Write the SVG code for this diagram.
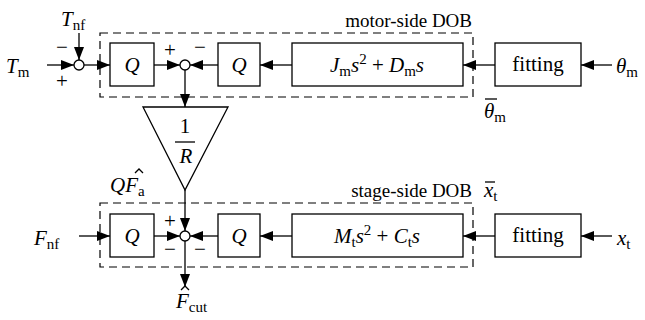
<svg xmlns="http://www.w3.org/2000/svg" width="645" height="320" viewBox="0 0 645 320">
<defs>
<marker id="ah" markerUnits="userSpaceOnUse" markerWidth="14" markerHeight="10" refX="13" refY="5" orient="auto">
<path d="M0,0 L13,5 L0,10 z" fill="#000" stroke="none"/>
</marker>
</defs>

<g id="connectors" fill="none" stroke="#000" stroke-width="1.3" marker-end="url(#ah)">
<line x1="47" y1="65" x2="74" y2="65"/>
<line x1="79" y1="33" x2="79" y2="60"/>
<line x1="84" y1="65" x2="110" y2="65"/>
<line x1="154" y1="65" x2="180" y2="65"/>
<line x1="218" y1="65" x2="190" y2="65"/>
<line x1="292" y1="65" x2="260" y2="65"/>
<line x1="495" y1="65" x2="463" y2="65"/>
<line x1="612" y1="65" x2="581" y2="65"/>
<line x1="185" y1="70" x2="185" y2="107"/>
<line x1="185" y1="190" x2="185" y2="231"/>
<line x1="79" y1="236" x2="110" y2="236"/>
<line x1="154" y1="236" x2="180" y2="236"/>
<line x1="218" y1="236" x2="190" y2="236"/>
<line x1="292" y1="236" x2="260" y2="236"/>
<line x1="495" y1="236" x2="463" y2="236"/>
<line x1="612" y1="236" x2="581" y2="236"/>
<line x1="185" y1="241" x2="185" y2="287"/>
</g>

<g font-family="Liberation Serif" font-size="21" fill="#000">
<g id="motor-dob">
<rect x="100" y="33" width="373" height="64" fill="none" stroke="#000" stroke-width="1.2" stroke-dasharray="8 5"/>
<text font-size="19" x="472" y="27" text-anchor="end">motor-side DOB</text>
</g>
<g id="stage-dob">
<rect x="100" y="203" width="373" height="64" fill="none" stroke="#000" stroke-width="1.2" stroke-dasharray="8 5"/>
<text font-size="19" x="472" y="197" text-anchor="end">stage-side DOB</text>
</g>

<g id="sum1"><circle cx="79" cy="65" r="5" fill="#fff" stroke="#000" stroke-width="1.3"/>
<text x="62" y="54" text-anchor="middle">−</text><text x="62" y="88" text-anchor="middle">+</text></g>
<g id="sum2"><circle cx="185" cy="65" r="5" fill="#fff" stroke="#000" stroke-width="1.3"/>
<text x="170" y="57" text-anchor="middle">+</text><text x="200" y="54" text-anchor="middle">−</text></g>
<g id="sum3"><circle cx="185" cy="236" r="5" fill="#fff" stroke="#000" stroke-width="1.3"/>
<text x="170" y="228" text-anchor="middle">+</text><text x="170" y="256" text-anchor="middle">−</text><text x="200" y="256" text-anchor="middle">−</text></g>

<g id="q1"><rect x="110" y="43" width="44" height="43" fill="#fff" stroke="#000" stroke-width="1.3"/><text font-style="italic" text-anchor="middle" x="132" y="72">Q</text></g>
<g id="q2"><rect x="218" y="43" width="42" height="43" fill="#fff" stroke="#000" stroke-width="1.3"/><text font-style="italic" text-anchor="middle" x="239" y="72">Q</text></g>
<g id="jm"><rect x="292" y="43" width="171" height="43" fill="#fff" stroke="#000" stroke-width="1.3"/>
<text text-anchor="middle" x="377" y="72"><tspan font-style="italic">J</tspan><tspan font-size="15" dy="4">m</tspan><tspan font-style="italic" dy="-4">s</tspan><tspan font-size="15" dy="-8">2</tspan><tspan dy="8"> + </tspan><tspan font-style="italic">D</tspan><tspan font-size="15" dy="4">m</tspan><tspan font-style="italic" dy="-4">s</tspan></text></g>
<g id="fit1"><rect x="495" y="43" width="86" height="43" fill="#fff" stroke="#000" stroke-width="1.3"/><text text-anchor="middle" x="538" y="71">fitting</text></g>

<g id="q3"><rect x="110" y="214" width="44" height="43" fill="#fff" stroke="#000" stroke-width="1.3"/><text font-style="italic" text-anchor="middle" x="132" y="243">Q</text></g>
<g id="q4"><rect x="218" y="214" width="42" height="43" fill="#fff" stroke="#000" stroke-width="1.3"/><text font-style="italic" text-anchor="middle" x="239" y="243">Q</text></g>
<g id="mt"><rect x="292" y="214" width="171" height="43" fill="#fff" stroke="#000" stroke-width="1.3"/>
<text text-anchor="middle" x="377" y="243"><tspan font-style="italic">M</tspan><tspan font-size="15" dy="4">t</tspan><tspan font-style="italic" dy="-4">s</tspan><tspan font-size="15" dy="-8">2</tspan><tspan dy="8"> + </tspan><tspan font-style="italic">C</tspan><tspan font-size="15" dy="4">t</tspan><tspan font-style="italic" dy="-4">s</tspan></text></g>
<g id="fit2"><rect x="495" y="214" width="86" height="43" fill="#fff" stroke="#000" stroke-width="1.3"/><text text-anchor="middle" x="538" y="242">fitting</text></g>

<g id="gain">
<polygon points="143,107 228,107 185,190" fill="#fff" stroke="#000" stroke-width="1.3"/>
<text text-anchor="middle" x="185" y="133">1</text>
<line x1="175" y1="142" x2="195" y2="142" stroke="#000" stroke-width="1.3"/>
<text font-style="italic" text-anchor="middle" x="186" y="163">R</text>
</g>

<g id="labels">
<text x="61" y="26"><tspan font-style="italic">T</tspan><tspan font-size="15" dy="4">nf</tspan></text>
<text x="6" y="73"><tspan font-style="italic">T</tspan><tspan font-size="15" dy="4">m</tspan></text>
<text x="616" y="73"><tspan font-style="italic">θ</tspan><tspan font-size="15" dy="4">m</tspan></text>
<text x="484" y="118"><tspan font-style="italic">θ</tspan><tspan font-size="15" dy="4">m</tspan></text>
<line x1="485" y1="99" x2="497" y2="99" stroke="#000" stroke-width="1.3"/>
<text x="110" y="192"><tspan font-style="italic">QF</tspan><tspan font-size="15" dy="4">a</tspan></text>
<path d="M135,173 L139,169 L143,173" fill="none" stroke="#000" stroke-width="1.3"/>
<text x="484" y="197"><tspan font-style="italic">x</tspan><tspan font-size="15" dy="4">t</tspan></text>
<line x1="485" y1="182" x2="495" y2="182" stroke="#000" stroke-width="1.3"/>
<text x="34" y="245"><tspan font-style="italic">F</tspan><tspan font-size="15" dy="4">nf</tspan></text>
<text x="617" y="245"><tspan font-style="italic">x</tspan><tspan font-size="15" dy="4">t</tspan></text>
<text x="176" y="308"><tspan font-style="italic">F</tspan><tspan font-size="15" dy="4">cut</tspan></text>
<path d="M181,290 L185,286 L189,290" fill="none" stroke="#000" stroke-width="1.3"/>
</g>
</g>
</svg>
